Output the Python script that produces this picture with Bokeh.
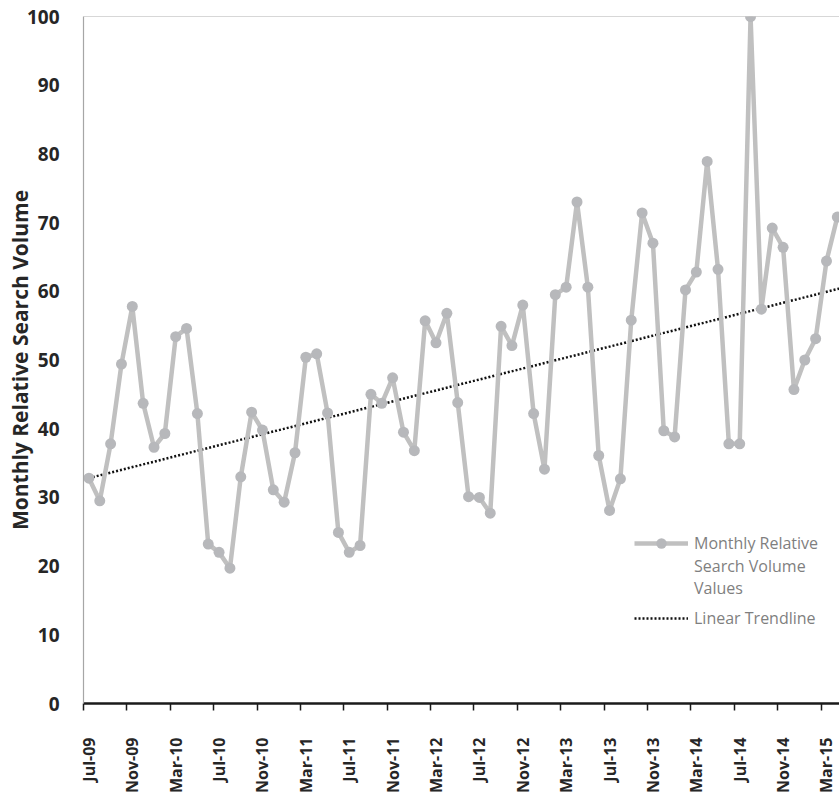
import numpy as np
from bokeh.plotting import figure
from bokeh.models import FixedTicker, Legend, LegendItem, Range1d, Span
from bokeh.embed import file_html
from bokeh.resources import INLINE

# Monthly Relative Search Volume, Jul-09 .. Apr-15 (one value per month)
values = [32.8, 29.5, 37.8, 49.4, 57.8, 43.7, 37.3, 39.3, 53.4, 54.6,
          42.2, 23.2, 22.0, 19.7, 33.0, 42.4, 39.8, 31.1, 29.3, 36.5,
          50.4, 50.9, 42.3, 24.9, 22.0, 23.0, 45.0, 43.7, 47.4, 39.5,
          36.8, 55.7, 52.5, 56.8, 43.8, 30.1, 30.0, 27.7, 54.9, 52.1,
          58.0, 42.2, 34.1, 59.5, 60.6, 73.0, 60.6, 36.1, 28.1, 32.7,
          55.8, 71.4, 67.0, 39.7, 38.8, 60.2, 62.8, 78.9, 63.2, 37.8,
          37.8, 100.0, 57.4, 69.2, 66.4, 45.7, 50.0, 53.1, 64.4, 70.8]
month_index = list(range(len(values)))

tick_labels = ["Jul-09", "Nov-09", "Mar-10", "Jul-10", "Nov-10", "Mar-11",
               "Jul-11", "Nov-11", "Mar-12", "Jul-12", "Nov-12", "Mar-13",
               "Jul-13", "Nov-13", "Mar-14", "Jul-14", "Nov-14", "Mar-15"]
tick_step = 4
y_ticks = list(range(0, 101, 10))

label_pos = [i * tick_step for i in range(len(tick_labels))]
boundary_ticks = [p - 0.5 for p in label_pos] + [label_pos[-1] + tick_step - 0.5]

# linear trendline (least squares)
slope, intercept = np.polyfit(month_index, values, 1)
trend_x = [0, len(values) + 1]
trend_y = [intercept + slope * t for t in trend_x]

p = figure(width=839, height=795, output_backend="svg", toolbar_location=None,
           x_range=Range1d(-0.5, 69.2), y_range=Range1d(0, 100),
           min_border_left=83, min_border_right=0, min_border_top=16,
           min_border_bottom=92)
p.outline_line_color = None
p.xgrid.grid_line_color = None
p.ygrid.grid_line_color = None
p.background_fill_color = "white"
p.border_fill_color = "white"

p.add_layout(Span(location=100, dimension="width", line_color="#b0b0b0", line_width=1.2))

FONT = "Open Sans"

# x axis
xa = p.xaxis[0]
xa.ticker = FixedTicker(ticks=label_pos, minor_ticks=boundary_ticks)
xa.major_label_overrides = {pos: lab for pos, lab in zip(label_pos, tick_labels)}
xa.major_label_orientation = np.pi / 2
xa.major_tick_line_color = None
xa.major_tick_out = 0
xa.major_tick_in = 0
xa.minor_tick_line_color = "#1a1a1a"
xa.minor_tick_line_width = 1.5
xa.minor_tick_out = 7
xa.minor_tick_in = 0
xa.axis_line_color = "#1a1a1a"
xa.axis_line_width = 2.5
xa.major_label_standoff = 27
xa.major_label_text_font = FONT
xa.major_label_text_font_style = "bold"
xa.major_label_text_font_size = "16px"
xa.major_label_text_color = "#262626"

# y axis
ya = p.yaxis[0]
ya.ticker = FixedTicker(ticks=y_ticks)
ya.major_tick_line_color = None
ya.minor_tick_line_color = None
ya.major_tick_out = 0
ya.major_tick_in = 0
ya.axis_line_color = "#a6a6a6"
ya.axis_line_width = 1.2
ya.major_label_standoff = 24
ya.major_label_text_font = FONT
ya.major_label_text_font_style = "bold"
ya.major_label_text_font_size = "19px"
ya.major_label_text_color = "#262626"
ya.axis_label = "Monthly Relative Search Volume"
ya.axis_label_text_font = FONT
ya.axis_label_text_font_style = "bold"
ya.axis_label_text_font_size = "21px"
ya.axis_label_text_color = "#262626"
ya.axis_label_standoff = -10

trend_r = p.line(trend_x, trend_y, line_color="#111111", line_width=2.5,
                 line_dash="2 2")
line_r = p.line(month_index, values, line_color="#c0c0c0", line_width=4.5)
pts_r = p.scatter(month_index, values, size=11, fill_color="#b7b8bb",
                  line_color=None)

leg_a = Legend(items=[LegendItem(label="Monthly Relative", renderers=[line_r, pts_r])],
               location=(551, 147))
leg_a.glyph_height = 26
leg_a.label_height = 20
leg_a.spacing = 0
leg_b = Legend(items=[LegendItem(label="Search Volume", renderers=[]),
                      LegendItem(label="Values", renderers=[])],
               location=(551, 104))
leg_b.glyph_height = 20
leg_b.label_height = 20
leg_b.spacing = 0
leg_c = Legend(items=[LegendItem(label="Linear Trendline", renderers=[trend_r])],
               location=(551, 74))
leg_c.glyph_height = 20
leg_c.label_height = 20
leg_c.spacing = 0
for lg in (leg_a, leg_b, leg_c):
    lg.glyph_width = 54
    lg.padding = 0
    lg.margin = 0
    lg.label_standoff = 6
    lg.border_line_color = None
    lg.background_fill_alpha = 0
    lg.label_text_font = FONT
    lg.label_text_font_size = "16px"
    lg.label_text_color = "#7f7f7f"
    p.add_layout(lg)

open("out.html", "w").write(file_html(p, INLINE))
